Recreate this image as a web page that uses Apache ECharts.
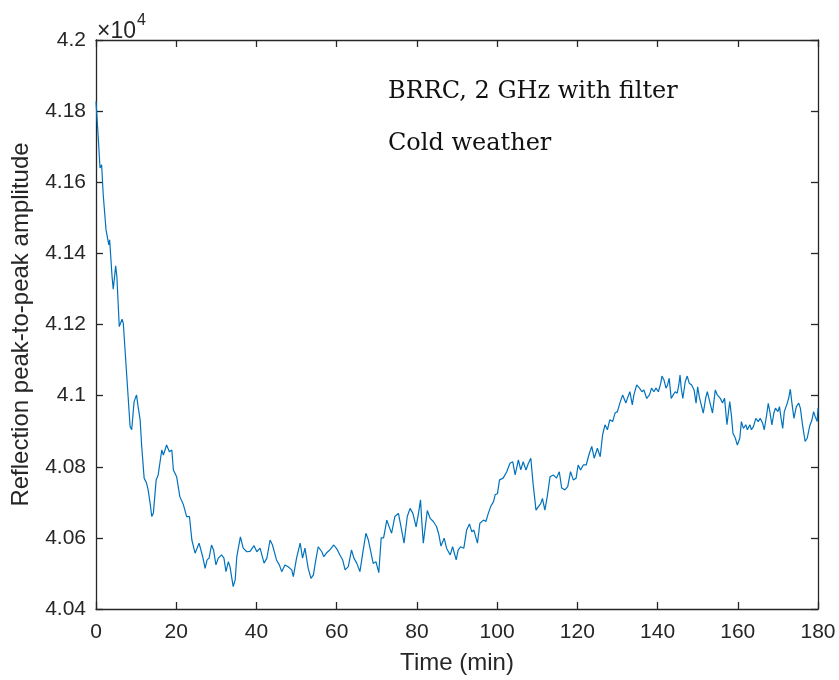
<!DOCTYPE html>
<html>
<head>
<meta charset="utf-8">
<script src="https://cdn.jsdelivr.net/npm/echarts@6/dist/echarts.min.js"></script>
<style>
html,body{margin:0;padding:0;background:#fff;}
#chart{width:839px;height:680px;}
</style>
</head>
<body>
<div id="chart"></div>
<script>
// Time (min)
const times = [
0.0,0.6,1.0,1.4,1.8,2.5,3.2,3.4,4.0,4.3,4.9,5.2,5.8,6.5,6.8,8.5,8.9,9.5,10.1,10.5,
11.0,11.4,12.0,12.6,13.0,13.5,13.9,14.3,15.0,15.5,16.4,16.8,17.6,18.3,18.9,19.3,20.1,20.9,21.8,22.6,
23.3,23.9,24.7,25.1,25.7,26.1,26.6,27.2,27.7,28.2,28.8,29.3,29.9,30.5,31.3,31.9,32.4,33.0,33.4,34.2,
34.7,35.1,36.0,36.7,37.6,38.4,39.4,40.1,40.9,41.9,42.6,43.4,44.0,45.0,45.7,46.3,47.1,47.9,48.8,49.2,
50.0,50.9,51.5,52.1,52.9,53.6,54.2,54.8,55.4,56.3,56.8,57.5,58.3,59.3,60.2,60.8,61.5,62.1,62.9,63.7,
64.3,65.0,65.8,66.5,67.3,67.9,68.5,69.1,69.8,70.5,71.1,71.7,72.5,73.1,73.7,74.5,75.4,75.8,76.2,76.8,
77.6,78.3,79.0,79.8,80.4,80.9,81.2,81.6,82.3,82.6,83.3,84.1,84.9,85.5,86.0,86.8,87.4,88.3,88.9,89.8,
90.3,90.9,91.7,92.4,93.1,93.7,94.2,95.1,95.7,96.6,97.2,97.8,98.4,99.1,99.5,100.1,100.6,101.5,102.4,103.2,
103.9,104.5,105.3,105.9,106.5,107.2,107.8,108.4,109.0,109.7,110.3,110.9,111.3,111.9,112.5,113.2,114.0,114.8,115.5,116.1,
116.9,117.6,118.3,119.0,119.7,120.2,120.8,121.5,122.2,123.0,123.6,124.2,125.0,125.7,126.3,126.9,127.5,128.1,128.8,129.4,
130.0,130.6,131.3,131.6,132.1,132.5,133.1,133.7,134.1,134.8,135.5,136.1,136.6,137.3,138.0,138.5,139.1,139.6,140.2,140.8,
141.1,141.6,142.1,142.5,142.9,143.4,143.9,144.4,144.9,145.3,145.6,145.9,146.3,146.9,147.4,147.9,148.5,149.1,149.6,150.0,
150.4,151.0,151.4,152.0,152.4,153.1,153.7,154.4,154.9,155.6,156.2,156.7,157.3,158.0,158.4,158.8,159.4,159.9,160.5,160.9,
161.4,162.0,162.4,163.0,163.4,163.9,164.5,165.1,165.6,166.2,166.6,167.2,167.6,168.0,168.5,169.0,169.4,170.0,170.4,170.8,
171.2,171.6,172.2,172.7,173.1,173.5,174.0,174.6,175.2,175.6,176.2,176.8,177.3,177.9,178.5,178.9,179.3,179.8,180.0
];
// Reflection peak-to-peak amplitude
const amplitude = [
41827,41719,41640,41649,41565,41466,41424,41438,41335,41299,41365,41335,41194,41215,41204,40913,40904,40983,41002,40969,
40932,40857,40768,40754,40735,40697,40660,40669,40763,40777,40847,40833,40861,40842,40847,40791,40772,40716,40693,40660,
40660,40594,40557,40552,40585,40580,40547,40514,40538,40543,40580,40566,40524,40543,40552,40543,40505,40533,40519,40463,
40482,40547,40603,40571,40561,40562,40578,40561,40571,40529,40543,40594,40580,40538,40524,40505,40524,40519,40510,40491,
40543,40585,40543,40571,40514,40486,40496,40538,40575,40561,40547,40558,40566,40580,40566,40552,40538,40510,40519,40566,
40543,40529,40505,40557,40613,40594,40561,40528,40533,40502,40600,40600,40650,40631,40613,40660,40669,40674,40622,40585,
40660,40683,40669,40631,40669,40707,40650,40585,40650,40677,40655,40646,40632,40608,40577,40599,40571,40552,40575,40538,
40566,40575,40571,40622,40639,40617,40622,40585,40641,40650,40646,40669,40688,40702,40721,40725,40763,40768,40786,40810,
40814,40777,40819,40791,40814,40791,40810,40824,40749,40678,40688,40697,40711,40678,40716,40772,40777,40768,40786,40740,
40735,40744,40786,40763,40768,40805,40791,40805,40805,40838,40857,40824,40852,40828,40890,40918,40904,40932,40927,40951,
40955,40979,41002,41007,40979,40993,41011,40974,41002,41030,41021,41011,41016,40992,41002,41021,41011,41021,41011,41035,
41055,41044,41021,41030,41049,40992,41002,41011,41007,41030,41058,41021,40992,41039,41055,41035,41030,41016,40979,41025,
40997,40969,40951,40993,41011,40979,40951,41016,41002,40993,40979,40993,40918,40983,40946,40894,40880,40861,40880,40927,
40908,40918,40904,40918,40904,40913,40936,40927,40936,40922,40904,40946,40978,40955,40918,40951,40965,40955,40969,40936,
40908,40955,40974,40993,41018,40979,40936,40969,40979,40965,40913,40871,40880,40913,40932,40955,40941,40927,40965
];
const yTicks = [40400,40600,40800,41000,41200,41400,41600,41800,42000];
const xTicks = [0,20,40,60,80,100,120,140,160,180];
const annotations = ['BRRC, 2 GHz with filter','Cold weather'];

const seriesData = times.map((t,i)=>[t, amplitude[i]]);
const axisColor = '#262626';
const sans = 'Liberation Sans, Arial, sans-serif';
const labelFont = {color: axisColor, fontSize: 21, fontFamily: sans};

const chart = echarts.init(document.getElementById('chart'), null, {renderer:'canvas'});
const baseX = {
  type:'value', min:xTicks[0], max:xTicks[xTicks.length-1], interval:xTicks[1]-xTicks[0],
  axisLine:{show:true, onZero:false, lineStyle:{color:axisColor, width:1.3}},
  axisTick:{show:true, inside:true, length:7, lineStyle:{color:axisColor, width:1.3}},
  splitLine:{show:false}
};
const baseY = {
  type:'value', min:yTicks[0], max:yTicks[yTicks.length-1], interval:yTicks[1]-yTicks[0],
  axisLine:{show:true, onZero:false, lineStyle:{color:axisColor, width:1.3}},
  axisTick:{show:true, inside:true, length:7, lineStyle:{color:axisColor, width:1.3}},
  splitLine:{show:false}
};
chart.setOption({
  animation:false,
  backgroundColor:'#fff',
  grid:{left:96, right:21, top:40, bottom:71, containLabel:false},
  xAxis:[
    Object.assign({}, baseX, {
      position:'bottom',
      axisLabel:Object.assign({}, labelFont, {margin:13, formatter:v=>String(v)}),
      name:'Time (min)', nameLocation:'middle', nameGap:42,
      nameTextStyle:{color:axisColor, fontSize:24, fontFamily:sans}
    }),
    Object.assign({}, baseX, {position:'top', axisLabel:{show:false}})
  ],
  yAxis:[
    Object.assign({}, baseY, {
      position:'left',
      axisLabel:Object.assign({}, labelFont, {margin:10, formatter:v=>String(Math.round(v)/10000)}),
      name:'Reflection peak-to-peak amplitude', nameLocation:'middle', nameGap:63,
      nameTextStyle:{color:axisColor, fontSize:24, fontFamily:sans}
    }),
    Object.assign({}, baseY, {position:'right', axisLabel:{show:false}})
  ],
  graphic:[
    {type:'text', left:97, top:13, style:{
      text:'{a|×10}{b|4}', rich:{
        a:{fontSize:23, fill:axisColor, fontFamily:sans, verticalAlign:'bottom'},
        b:{fontSize:16, fill:axisColor, fontFamily:sans, verticalAlign:'top', padding:[0,0,14,1]}
      }}},
    {type:'text', left:388, top:80, style:{text:annotations[0], fill:'#111', fontSize:24, fontFamily:'DejaVu Serif, serif'}},
    {type:'text', left:388, top:132, style:{text:annotations[1], fill:'#111', fontSize:24, fontFamily:'DejaVu Serif, serif'}}
  ],
  series:[{
    type:'line', data:seriesData, xAxisIndex:0, yAxisIndex:0,
    showSymbol:false, symbol:'none', smooth:false,
    lineStyle:{color:'#0072BD', width:1.2}
  }]
});
</script>
</body>
</html>
